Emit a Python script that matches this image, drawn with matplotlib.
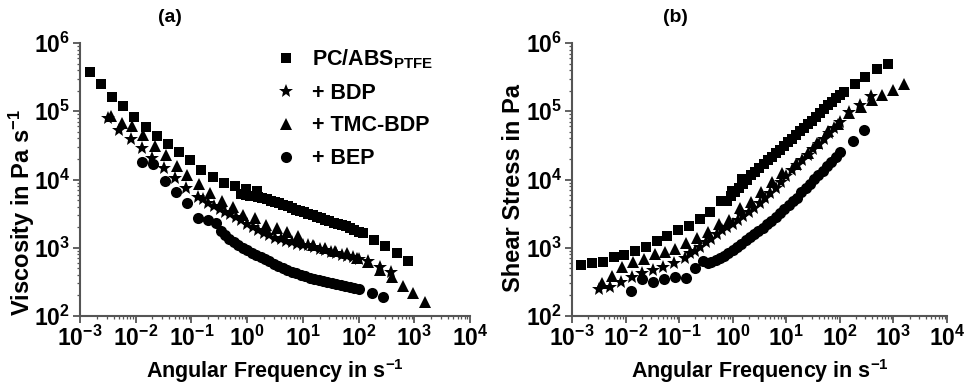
import numpy as np
import matplotlib
matplotlib.use("Agg")
import matplotlib.pyplot as plt
from matplotlib.ticker import LogLocator, NullFormatter

plt.rcParams['font.family'] = 'Liberation Sans'
plt.rcParams['font.weight'] = 'bold'
plt.rcParams['mathtext.fontset'] = 'custom'
plt.rcParams['mathtext.rm'] = 'Liberation Sans:bold'
plt.rcParams['mathtext.bf'] = 'Liberation Sans:bold'
plt.rcParams['mathtext.it'] = 'Liberation Sans:bold'
plt.rcParams['mathtext.default'] = 'rm'

# angular frequency (1/s) and complex viscosity (Pa s)
pc_abs_freq = [1.5e-3, 2.4e-3, 3.8e-3, 6.0e-3, 9.5e-3, 1.5e-2, 2.4e-2, 3.8e-2, 6.0e-2, 9.5e-2,
               0.15, 0.24, 0.38, 0.6, 0.95, 1.5,
               0.79, 0.94, 1.12, 1.33, 1.58, 1.88, 2.24, 2.66, 3.16, 3.76, 4.47, 5.31, 6.31, 7.5,
               8.91, 10.6, 12.6, 15.0, 17.8, 21.1, 25.1, 29.9, 35.5, 42.2, 50.1, 59.6, 70.8, 84.1,
               100, 119,
               190, 300, 490, 780]
pc_abs_visc = [3.7e5, 2.5e5, 1.6e5, 1.2e5, 8.2e4, 5.9e4, 4.3e4, 3.3e4, 2.5e4, 1.9e4,
               1.4e4, 1.1e4, 8.9e3, 8.0e3, 7.2e3, 6.8e3,
               6190, 6010, 5820, 5650, 5470, 5310, 5110, 4900, 4700, 4510, 4280, 4050, 3830, 3620,
               3450, 3300, 3160, 3030, 2860, 2710, 2560, 2430, 2320, 2230, 2140, 2050, 1940, 1830,
               1730, 1630,
               1300, 1060, 840, 640]

bdp_freq = [3.2e-3, 5.1e-3, 8.1e-3, 1.3e-2, 2.0e-2, 3.2e-2, 5.1e-2, 8.1e-2, 0.13,
            0.16, 0.2, 0.25, 0.32, 0.4, 0.5, 0.63, 0.79, 1.0, 1.26, 1.58, 2.0, 2.5, 3.2, 4.0,
            5.0, 6.3, 7.9, 10, 12.6, 15.8, 20, 25, 32, 40, 50, 63, 79, 100,
            150, 240, 380]
bdp_visc = [7.9e4, 5.3e4, 3.9e4, 2.85e4, 2.1e4, 1.46e4, 1.04e4, 7.4e3, 5.5e3,
            5160, 4510, 4080, 3750, 3390, 3170, 2860, 2550, 2260, 2010, 1850, 1670, 1530, 1410, 1340,
            1270, 1210, 1150, 1110, 1080, 1020, 970, 920, 880, 840, 790, 755, 730, 695,
            640, 515, 445]

tmc_freq = [3.6e-3, 5.6e-3, 8.5e-3, 1.37e-2, 2.22e-2, 3.5e-2, 5.4e-2, 8.4e-2, 0.137, 0.216,
            0.35, 0.55, 0.84, 1.39, 2.18, 3.4, 5.3, 8.3, 15.4, 25.1, 37.8, 61, 93, 150, 243,
            394, 621, 964, 1560]
tmc_visc = [8.5e4, 6.8e4, 6.15e4, 4.47e4, 3.08e4, 2.28e4, 1.6e4, 1.16e4, 8.6e3, 6.4e3,
            4.9e3, 4.0e3, 3.0e3, 2.72e3, 2.15e3, 1.92e3, 1.71e3, 1.51e3, 1.08e3, 980, 904, 836, 706,
            624, 471, 376, 275, 215, 162]

bep_freq = [0.0128, 0.0207, 0.0332, 0.053, 0.083, 0.133, 0.195, 0.277, 0.34,
            0.40, 0.48, 0.575, 0.69, 0.83, 1.0, 1.2, 1.45, 1.74, 2.09, 2.51, 3.02, 3.63, 4.37,
            5.25, 6.31, 7.59, 9.12, 11.0, 13.2, 15.8, 19.1, 22.9, 27.5, 33.1, 39.8, 47.9, 57.5,
            69.2, 83.2, 100,
            173, 279]
bep_visc = [1.82e4, 1.68e4, 9.4e3, 6.6e3, 4.56e3, 2.69e3, 2.55e3, 2.28e3, 1.76e3,
            1550, 1365, 1225, 1100, 1000, 918, 851, 791, 735, 681, 631, 586, 543, 504,
            468, 445, 425, 403, 383, 363, 344, 339, 329, 316, 305, 292, 282, 272,
            265, 259, 251,
            215, 192]

series = [
    (pc_abs_freq, pc_abs_visc, 's', 7.5, r'PC/ABS$_{\mathbf{PTFE}}$'),
    (bdp_freq, bdp_visc, '*', 10, '+ BDP'),
    (tmc_freq, tmc_visc, '^', 9, '+ TMC-BDP'),
    (bep_freq, bep_visc, 'o', 8, '+ BEP'),
]

x_ticks = [1e-3, 1e-2, 1e-1, 1e0, 1e1, 1e2, 1e3, 1e4]
x_labels = [r'$\mathbf{10^{-3}}$', r'$\mathbf{10^{-2}}$', r'$\mathbf{10^{-1}}$', r'$\mathbf{10^{0}}$',
            r'$\mathbf{10^{1}}$', r'$\mathbf{10^{2}}$', r'$\mathbf{10^{3}}$', r'$\mathbf{10^{4}}$']
y_ticks = [1e2, 1e3, 1e4, 1e5, 1e6]
y_labels = [r'$\mathbf{10^{2}}$', r'$\mathbf{10^{3}}$', r'$\mathbf{10^{4}}$', r'$\mathbf{10^{5}}$',
            r'$\mathbf{10^{6}}$']

axis_col = '#555555'
fs = 15.5


def style(ax):
    ax.set_xscale('log')
    ax.set_yscale('log')
    ax.set_xlim(1e-3, 1e4)
    ax.set_ylim(1e2, 1e6)
    for s in ['top', 'right']:
        ax.spines[s].set_visible(False)
    for s in ['left', 'bottom']:
        ax.spines[s].set_color(axis_col)
        ax.spines[s].set_linewidth(1.5)
    ax.set_xticks(x_ticks)
    ax.set_xticklabels(x_labels)
    ax.set_yticks(y_ticks)
    ax.set_yticklabels(y_labels)
    ax.xaxis.set_minor_locator(LogLocator(base=10, subs=np.arange(2, 10), numticks=20))
    ax.yaxis.set_minor_locator(LogLocator(base=10, subs=np.arange(2, 10), numticks=20))
    ax.xaxis.set_minor_formatter(NullFormatter())
    ax.yaxis.set_minor_formatter(NullFormatter())
    ax.tick_params(which='major', direction='out', length=5, width=1.3, color=axis_col,
                   labelsize=16.5, pad=2)
    ax.tick_params(which='minor', direction='out', length=2.5, width=0.9, color=axis_col)


fig = plt.figure(figsize=(9.68, 3.85), dpi=100)
ax1 = fig.add_axes([80 / 968, 69 / 385, 390 / 968, 273 / 385])
ax2 = fig.add_axes([572 / 968, 69 / 385, 375 / 968, 273 / 385])

for f, v, m, ms, lab in series:
    ax1.plot(f, v, m, color='black', ms=ms, mew=0, label=lab, clip_on=False)
    # shear stress = complex viscosity * angular frequency, same measurement points
    ax2.plot(f, np.array(f) * np.array(v), m, color='black', ms=ms, mew=0, clip_on=False)

style(ax1)
style(ax2)

ax1.set_xlabel(r'Angular Frequency in $\mathbf{s^{-1}}$', fontsize=fs, fontweight='bold')
ax2.set_xlabel(r'Angular Frequency in $\mathbf{s^{-1}}$', fontsize=fs, fontweight='bold')
ax1.set_ylabel(r'Viscosity in Pa $\mathbf{s^{-1}}$', fontsize=17, fontweight='bold')
ax2.set_ylabel('Shear Stress in Pa', fontsize=17, fontweight='bold')
ax1.xaxis.set_label_coords(0.5, -0.15)
ax2.xaxis.set_label_coords(0.5, -0.15)
ax1.yaxis.set_label_coords(-0.11, 0.38)
ax2.yaxis.set_label_coords(-0.125, 0.47)

ax1.legend(loc='upper left', bbox_to_anchor=(0.5, 0.985), frameon=False, fontsize=fs,
           handlelength=1.0, handletextpad=0.7, labelspacing=0.55, borderpad=0, borderaxespad=0)

fig.text(170 / 968, 1 - 18 / 385, '(a)', fontsize=14, fontweight='bold', ha='center', va='center')
fig.text(675 / 968, 1 - 18 / 385, '(b)', fontsize=14, fontweight='bold', ha='center', va='center')

fig.savefig('out.png', dpi=100)
